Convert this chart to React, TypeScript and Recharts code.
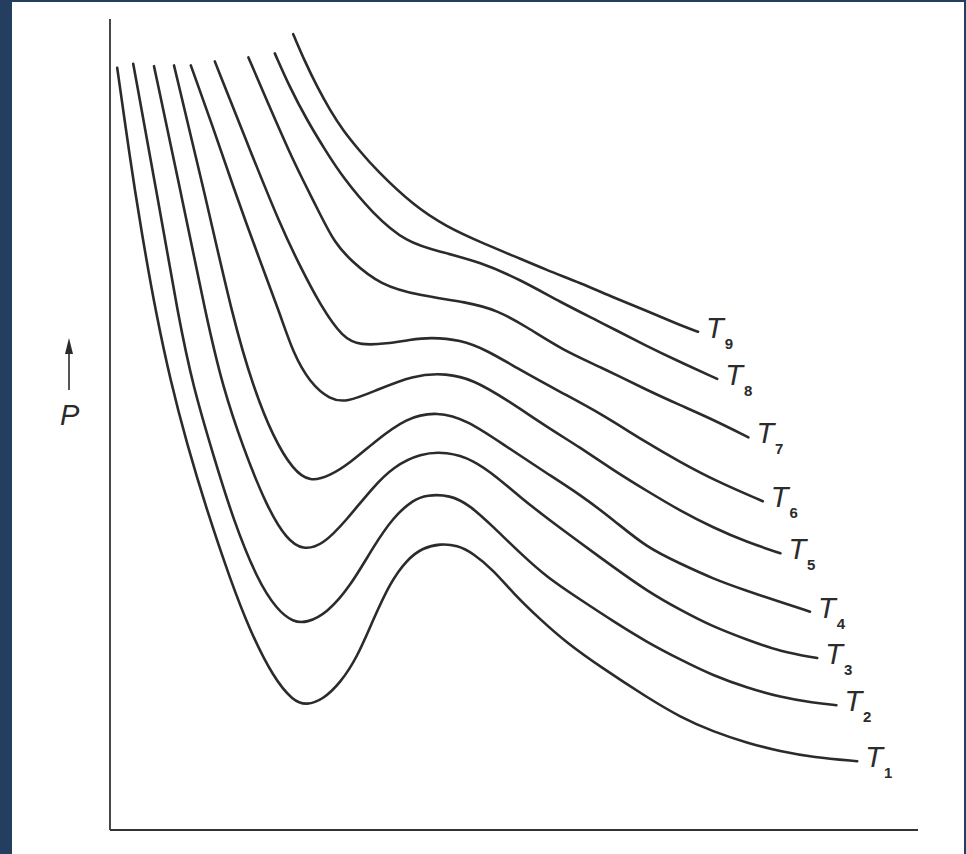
import { LineChart, Line, XAxis, YAxis } from 'recharts'

// Isotherms T1..T9 of the P-V diagram (arbitrary units, [V, P])
const t1 = [
  [0.9, 95.3], [2, 87.5], [3.1, 80], [4.4, 72.1], [5.8, 64.4], [7.5, 56.4], [9.6, 48.3], [12.1, 40],
  [15, 31.4], [17.5, 24.9], [20.4, 19.1], [22.9, 16.1], [24.6, 15.6], [26.6, 16.3], [28.8, 18.4],
  [30.9, 21.6], [32.9, 26.3], [35, 30.9], [37.1, 33.8], [39.1, 35.3], [41.3, 35.8], [43.4, 35.6],
  [45.4, 34.6], [47.9, 32.5], [50.4, 29.6], [53.8, 26.3], [57.1, 23.4], [61.3, 20.4], [67.1, 16.6],
  [71.3, 14.1], [75.4, 12.3], [79.6, 10.9], [83.8, 9.8], [87.9, 9.1], [93.4, 8.6],
]
const t2 = [
  [2.9, 95.8], [5.8, 80], [8.6, 63.8], [10.4, 55.4], [12.9, 46.9], [15.4, 38.8], [18.4, 31.3],
  [20.9, 27.5], [22.9, 26], [24.6, 25.9], [27.1, 27.1], [30, 30.4], [32.9, 35.4], [35.4, 39.1],
  [37.9, 41.3], [39.6, 41.9], [42.5, 41.9], [45, 40.6], [47.9, 37.9], [51.3, 34.6], [54.6, 31.6],
  [58.8, 28.8], [62.9, 26.1], [67.1, 23.5], [71.3, 21.3], [75.4, 19.3], [79.6, 17.8], [83.8, 16.6],
  [87.9, 15.9], [90.8, 15.6],
]
const t3 = [
  [5.5, 95.5], [8.8, 80], [12.1, 63.8], [14.1, 55.4], [16.6, 47.9], [19.6, 40.4], [22.1, 36.3],
  [24.1, 35], [26.6, 35.6], [29.6, 38.8], [32.9, 42.9], [35.4, 45.4], [38.8, 47.1], [42.1, 47.3],
  [45.4, 46.3], [48.4, 44.1], [51.3, 41.6], [54.6, 39], [58.8, 35.9], [62.9, 32.9], [67.1, 29.9],
  [71.3, 27.5], [75.4, 25.4], [79.6, 23.8], [83.8, 22.3], [88.4, 21.5],
]
const t4 = [
  [8, 95.6], [11.8, 79.8], [15.4, 63.8], [17.9, 55.4], [20.4, 49.1], [22.9, 45], [25, 43.5],
  [27.5, 44.3], [30, 45.9], [32.9, 48.4], [37.1, 51.6], [40.9, 52.3], [44.6, 51.3], [49.6, 47.9],
  [54.6, 44.6], [58.8, 41.9], [62.9, 38.8], [67.1, 35.3], [71.3, 33.3], [75.4, 31.4], [79.6, 29.9],
  [83.8, 28.5], [87.5, 27.3],
]
const t5 = [
  [10.1, 95.6], [12.8, 88.1], [15.4, 80.4], [18.4, 72.1], [21.3, 64.4], [22.9, 59.6], [25, 55.9],
  [27.5, 53.8], [29.6, 53.5], [32.9, 54.8], [37.9, 56.9], [42.1, 57.1], [45.4, 56.3], [49.6, 53.8],
  [54.6, 50.4], [58.8, 47.8], [62.9, 45], [67.1, 42.4], [71.3, 39.9], [75.4, 37.8], [79.6, 36],
  [83.8, 34.6],
]
const t6 = [
  [13.1, 96.1], [17.5, 85], [21.3, 75.6], [23.8, 70.4], [26.3, 65.6], [29.1, 61.5], [31.3, 60.6],
  [34.6, 60.8], [37.5, 61.3], [40, 61.6], [43.8, 61.3], [47.1, 60], [51.3, 57.5], [56.6, 54.6],
  [61.3, 52.1], [67.1, 48.4], [71.3, 46], [75.4, 43.8], [81.6, 41.1],
]
const t7 = [
  [17.3, 96.6], [20, 90.3], [22.5, 84.6], [24.1, 81.3], [26.3, 76.9], [28.1, 73.4], [30, 71.3],
  [33.8, 68.1], [38.8, 66.8], [44.6, 66], [48.4, 65], [52.1, 62.9], [56.6, 60], [61.3, 57.9],
  [67.1, 55], [71.3, 53.1], [75.4, 51.3], [79.8, 49.1],
]
const t8 = [
  [20.6, 97.1], [22.5, 92.8], [24.6, 88.8], [26.9, 85], [29.1, 81.6], [32.8, 77.1], [37.1, 73.4],
  [41.3, 72.3], [46.3, 71], [51.3, 68.8], [56.3, 66], [61.3, 63.5], [67.1, 60.5], [71.3, 58.5],
  [75.9, 56.4],
]
const t9 = [
  [22.9, 99.5], [24.4, 96], [25.9, 92.9], [27.5, 90], [29.1, 87.5], [31.3, 84.8], [33.3, 82.5],
  [37.9, 78.1], [42.1, 75.4], [46.3, 73.5], [50.4, 71.8], [54.6, 70], [58.8, 68.4], [62.9, 66.6],
  [67.1, 64.9], [71.3, 63.1], [73.5, 62.3],
]

const subscripts = ['1', '2', '3', '4', '5', '6', '7', '8', '9']
const curves = [t1, t2, t3, t4, t5, t6, t7, t8, t9]

const INK = '#2b2b2b'
const FONT = '"Liberation Sans", Arial, Helvetica, sans-serif'

// T with its subscript, drawn only at the last point of each isotherm
const renderTag = (p: any, last: number, sub: string) => {
  if (p.index !== last) return <g key={`d-${p.index}`} />
  return (
    <text key={`d-${p.index}`} x={p.cx + 8} y={p.cy + 6} fill={INK} fontFamily={FONT}>
      <tspan fontSize={29} fontStyle="italic">T</tspan>
      <tspan dx={1} dy={11} fontSize={15} fontWeight="bold">{sub}</tspan>
    </text>
  )
}

const PLabel = (props: any) => {
  const vb = props.viewBox
  const x = vb.x + 19
  const top = vb.y + 319
  return (
    <g>
      <line x1={x} y1={top + 14} x2={x} y2={top + 52} stroke={INK} strokeWidth={1.6} />
      <path d={`M${x} ${top} L${x - 4} ${top + 16} L${x + 4} ${top + 16} Z`} fill={INK} />
      <text x={x - 9} y={top + 87} fontSize={29} fontStyle="italic" fill={INK} fontFamily={FONT}>
        P
      </text>
    </g>
  )
}

export default function App() {
  return (
    <div style={{ position: 'relative', width: 966, height: 854, background: '#243e5f', overflow: 'hidden' }}>
      <style>{'body{margin:0}'}</style>
      <div style={{ position: 'absolute', left: 12, top: 2, width: 952, height: 852, background: '#fff' }} />
      <div style={{ position: 'absolute', left: 0, top: 0 }}>
        <LineChart width={966} height={854} margin={{ top: 19, right: 48, bottom: 0, left: 50 }}>
          <XAxis
            dataKey="v"
            type="number"
            domain={[0, 101]}
            allowDataOverflow
            tick={false}
            tickLine={false}
            height={24}
            axisLine={{ stroke: '#333', strokeWidth: 1.8 }}
          />
          <YAxis
            type="number"
            domain={[0, 101.4]}
            allowDataOverflow
            tick={false}
            tickLine={false}
            width={60}
            axisLine={{ stroke: '#333', strokeWidth: 1.8 }}
            label={{ content: PLabel }}
          />
          {curves.map((pts, i) => {
            const data = pts.map(([v, p]) => ({ v, p }))
            return (
              <Line
                key={subscripts[i]}
                data={data}
                dataKey="p"
                type="basis"
                stroke={INK}
                strokeWidth={2.6}
                strokeLinecap="round"
                dot={(p: any) => renderTag(p, data.length - 1, subscripts[i])}
                activeDot={false}
                isAnimationActive={false}
              />
            )
          })}
        </LineChart>
      </div>
    </div>
  )
}
